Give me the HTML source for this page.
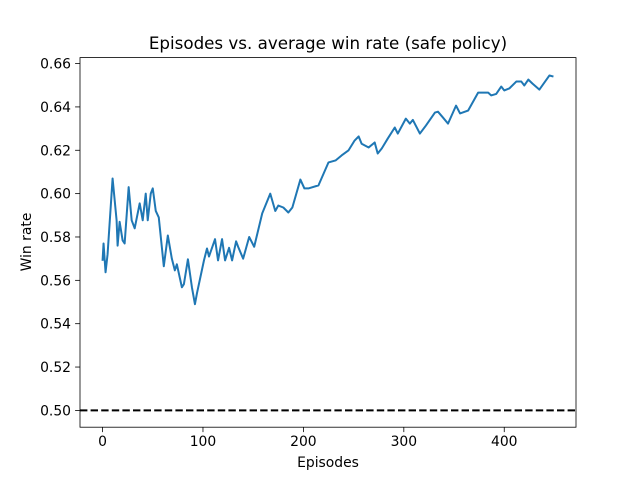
<!DOCTYPE html>
<html><head><meta charset="utf-8"><style>
body{margin:0;background:#fff}
svg{display:block;font-family:"DejaVu Sans","Liberation Sans",sans-serif}
</style></head><body>
<svg id="chart" width="640" height="480">
<rect width="640" height="480" fill="#fff"/>
<text x="328" y="49" font-size="16.7" text-anchor="middle">Episodes vs. average win rate (safe policy)</text>
<text x="328" y="467" font-size="13.9" text-anchor="middle">Episodes</text>
<text transform="translate(31,242) rotate(-90)" font-size="13.9" text-anchor="middle">Win rate</text>
<g id="ticks"></g>
<g id="plot"></g>
<rect x="80" y="57.6" width="496" height="369.6" fill="none" stroke="#000" stroke-width="0.8"/>
</svg>
<script>
const episodes=[0,1,3,5,10,14,15,17,20,22,26,29,32,37,40,43,45,48,50,53,56,61,65,69,72,74,79,81,85,89,92,94,101,104,106,112,115,119,122,126,129,133,135,140,146,151,159,167,172,175,180,185,189,197,201,205,215,225,232,238,245,251,255,258,265,271,274,278,284,291,294,302,306,309,316,322,331,334,339,344,352,356,364,374,384,387,392,397,400,405,412,417,420,424,428,435,445,449];
const winRates=[0.569,0.577,0.5637,0.572,0.607,0.5877,0.576,0.587,0.5784,0.577,0.603,0.5877,0.584,0.5955,0.5877,0.600,0.5877,0.600,0.6024,0.592,0.589,0.5665,0.5807,0.570,0.5646,0.5674,0.5568,0.5582,0.5697,0.5568,0.549,0.554,0.5692,0.5747,0.571,0.579,0.5692,0.579,0.5692,0.575,0.5692,0.578,0.5755,0.570,0.580,0.5755,0.5909,0.600,0.592,0.5945,0.5936,0.5913,0.5936,0.6065,0.6024,0.6024,0.6038,0.6144,0.6153,0.6176,0.620,0.6245,0.6264,0.623,0.6213,0.6236,0.6185,0.6208,0.6254,0.6305,0.6277,0.6346,0.6323,0.634,0.6277,0.6314,0.6374,0.6378,0.6351,0.6323,0.6406,0.637,0.6383,0.6466,0.6466,0.6453,0.646,0.6494,0.6476,0.6485,0.6517,0.6517,0.6499,0.6526,0.6508,0.648,0.6545,0.654];
const baseline=0.5;
const xTicks=[0,100,200,300,400];
const yTicks=[0.50,0.52,0.54,0.56,0.58,0.60,0.62,0.64,0.66];
const NS="http://www.w3.org/2000/svg";
const X0=80,X1=576,Y0=57.6,Y1=427.2;
const xmin=-22.45,xmax=471.45,ymin=0.49225,ymax=0.66275;
const sx=v=>X0+(v-xmin)/(xmax-xmin)*(X1-X0);
const sy=v=>Y1-(v-ymin)/(ymax-ymin)*(Y1-Y0);
const ticks=document.getElementById('ticks'),plot=document.getElementById('plot');
function mk(t,a,p){const e=document.createElementNS(NS,t);for(const k in a)e.setAttribute(k,a[k]);p.appendChild(e);return e;}
xTicks.forEach(v=>{
  const l=mk('line',{x1:sx(v),x2:sx(v),y1:Y1,y2:Y1+4.9,stroke:'#000','stroke-width':0.8},ticks);
  
  
  const t=mk('text',{x:sx(v),y:Y1+19,'font-size':13.9,'text-anchor':'middle'},ticks);
  t.textContent=v;
  
  
});
yTicks.forEach(v=>{
  const l=mk('line',{x1:X0-4.9,x2:X0,y1:sy(v),y2:sy(v),stroke:'#000','stroke-width':0.8},ticks);
  
  
  const t=mk('text',{x:X0-9,y:sy(v)+5,'font-size':13.9,'text-anchor':'end'},ticks);
  t.textContent=v.toFixed(2);
  
  
});
const b=mk('line',{x1:X0,x2:X1,y1:sy(baseline),y2:sy(baseline),stroke:'#000','stroke-width':2,'stroke-dasharray':'7.4 3.2'},plot);


const d=episodes.map((e,i)=>(i?'L':'M')+sx(e).toFixed(2)+','+sy(winRates[i]).toFixed(2)).join('');
const p=mk('path',{d:d,fill:'none',stroke:'#1f77b4','stroke-width':2,'stroke-linejoin':'round'},plot);


</script>
</body></html>
